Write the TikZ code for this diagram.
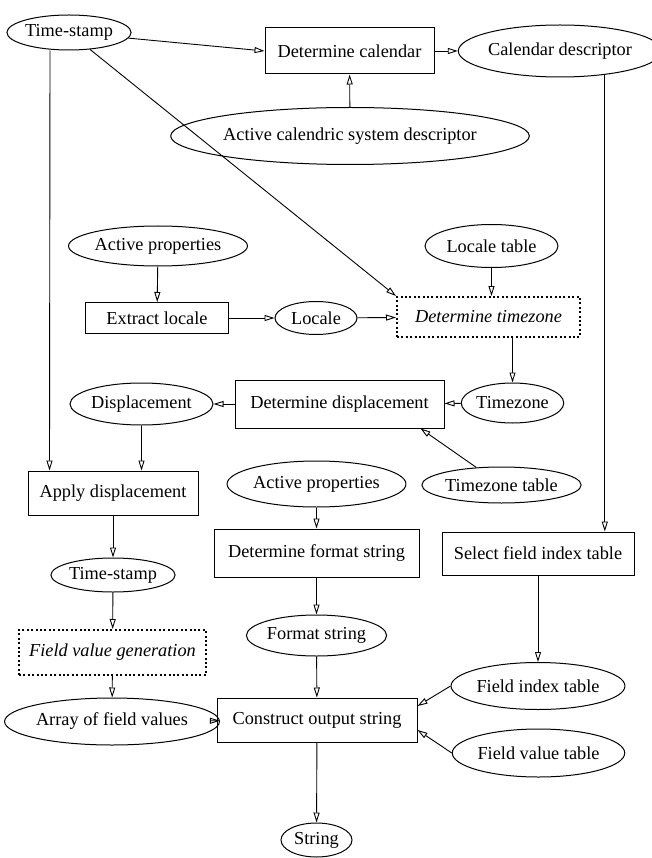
\documentclass[tikz,border=0pt]{standalone}
\usepackage{fontspec}
\setmainfont{Liberation Serif}
\usetikzlibrary{shapes.geometric,arrows.meta}

\begin{document}
\begin{tikzpicture}[x=1pt,y=-1pt,
	every node/.style={font=\fontsize{18.3}{21}\selectfont,inner sep=0pt,line width=1pt},
	data/.style={ellipse,draw},
	proc/.style={rectangle,draw},
	sub/.style={rectangle,draw,line width=2pt,dash pattern=on 2pt off 2.4pt,font=\fontsize{18.3}{21}\selectfont\itshape},
	flow/.style={line width=0.9pt,-{Triangle[open,length=10pt,width=6pt,line width=0.9pt]}}]
		\useasboundingbox (0,0) rectangle (652,858);

		\node[data,minimum width=118pt,minimum height=35pt] (ts) at (69,32.5) {Time-stamp};
		\node[proc,minimum width=169pt,minimum height=46pt] (detcal) at (349.5,51) {Determine calendar};
		\node[data,minimum width=182pt,minimum height=52pt] (caldesc) at (560,51) {Calendar descriptor};
		\node[data,minimum width=298pt,minimum height=57pt] (actcal) at (350,136) {Active calendric system descriptor};
		\node[data,minimum width=160pt,minimum height=40pt] (actprop) at (158,246) {Active properties};
		\node[data,minimum width=133pt,minimum height=43pt] (loctab) at (491.5,246) {Locale table};
		\node[proc,minimum width=143pt,minimum height=31pt] (extloc) at (157,318) {Extract locale};
		\node[data,minimum width=82pt,minimum height=33pt] (locale) at (316,318) {Locale};
		\node[sub,minimum width=183pt,minimum height=40pt] (dettz) at (488.5,317) {Determine timezone};
		\node[data,minimum width=101pt,minimum height=40pt] (tz) at (512.5,403) {Timezone};
		\node[proc,minimum width=209pt,minimum height=48pt] (detdisp) at (339.5,404) {Determine displacement};
		\node[data,minimum width=143pt,minimum height=42pt] (disp) at (141.5,404) {Displacement};
		\node[data,minimum width=141pt,minimum height=36pt] (tztab) at (501.5,485) {Timezone table};
		\node[proc,minimum width=170pt,minimum height=44pt] (applydisp) at (113,493) {Apply displacement};
		\node[data,minimum width=173pt,minimum height=46pt] (actprop2) at (316.5,484) {Active properties};
		\node[proc,minimum width=205pt,minimum height=48pt] (detfmt) at (316.5,553) {Determine format string};
		\node[proc,minimum width=192pt,minimum height=43pt] (selfit) at (538,553.5) {Select field index table};
		\node[data,minimum width=116pt,minimum height=34pt] (ts2) at (113,575) {Time-stamp};
		\node[data,minimum width=131pt,minimum height=41pt] (fmtstr) at (316.5,635.5) {Format string};
		\node[sub,minimum width=187pt,minimum height=45pt] (fvgen) at (112.5,652.5) {Field value generation};
		\node[data,minimum width=162pt,minimum height=47pt] (fitab) at (538,686) {Field index table};
		\node[data,minimum width=182pt,minimum height=47pt] (arrfv) at (112,721.5) {Array of field values};
		\node[proc,minimum width=200pt,minimum height=44pt] (construct) at (317,720) {Construct output string};
		\node[data,minimum width=157pt,minimum height=48pt] (fvtab) at (538.5,753) {Field value table};
		\node[data,minimum width=71pt,minimum height=34pt] (str) at (316.5,840) {String};

		\draw[flow] (ts) -- (detcal.west);
		\draw[flow] (detcal) -- (caldesc);
		\draw[flow] (actcal) -- (detcal);
		\draw[flow] (ts) -- (dettz.north west);
		\draw[flow] ([xshift=-19pt]ts.south) -- ([xshift=22pt]applydisp.north west);
		\draw[flow] (actprop) -- (extloc);
		\draw[flow] (extloc) -- (locale);
		\draw[flow] (locale) -- (dettz);
		\draw[flow] (loctab) -- (loctab |- dettz.north);
		\draw[flow] (dettz.south -| tz) -- (tz);
		\draw[flow] (tz) -- (detdisp);
		\draw[flow] (tztab) -- ([xshift=-24pt]detdisp.south east);
		\draw[flow] (detdisp) -- (disp);
		\draw[flow] (disp) -- (disp |- applydisp.north);
		\draw[flow] (applydisp) -- (ts2);
		\draw[flow] (ts2) -- (fvgen);
		\draw[flow] (fvgen) -- (arrfv);
		\draw[flow] (construct) -- (arrfv);
		\draw[flow] (actprop2) -- (detfmt);
		\draw[flow] (detfmt) -- (fmtstr);
		\draw[flow] (fmtstr) -- (construct);
		\draw[flow] (caldesc.-28) -- (caldesc.-28 |- selfit.north);
		\draw[flow] (selfit) -- (fitab);
		\draw[flow] (fitab.west) -- ([yshift=14pt]construct.east);
		\draw[flow] (fvtab.west) -- ([yshift=-10pt]construct.east);
		\draw[flow] (construct) -- (str);
	\end{tikzpicture}
\end{document}
